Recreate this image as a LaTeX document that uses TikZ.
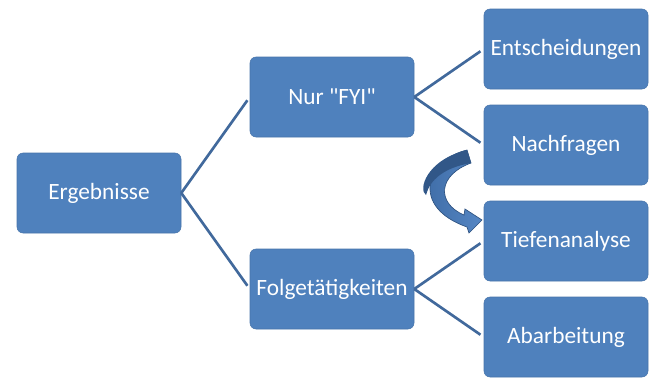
\documentclass[tikz,border=0pt]{standalone}
\usepackage{fontspec}
\setmainfont{Carlito}
\definecolor{boxblue}{HTML}{4F81BD}
\definecolor{lineblue}{HTML}{41699C}
\definecolor{arrowdark}{HTML}{3A67A0}
\definecolor{arrowlight}{HTML}{5586C4}
\begin{document}
\begin{tikzpicture}[x=0.75pt,y=-0.75pt,
  boxnode/.style={fill=boxblue,draw=boxblue!90!black,line width=0.4pt,rounded corners=4.5pt,minimum width=123pt,minimum height=60pt,text=white,font=\fontsize{17.5}{20}\selectfont,inner sep=0pt},
  conn/.style={draw=lineblue,line width=2pt,shorten >=3pt}]
\useasboundingbox (0,0) rectangle (672,390);
\node[boxnode] (erg) at (99,193) {Ergebnisse};
\node[boxnode] (fyi) at (332,97) {Nur \textquotedbl FYI\textquotedbl};
\node[boxnode] (folg) at (332,289) {Folgetätigkeiten};
\node[boxnode] (ent) at (566,49) {Entscheidungen};
\node[boxnode] (nach) at (566,145) {Nachfragen};
\node[boxnode] (tief) at (566,241) {Tiefenanalyse};
\node[boxnode] (abar) at (566,337) {Abarbeitung};
\draw[conn] (erg.east) -- (fyi.west);
\draw[conn] (erg.east) -- (folg.west);
\draw[conn] (fyi.east) -- (ent.west);
\draw[conn] (fyi.east) -- (nach.west);
\draw[conn] (folg.east) -- (tief.west);
\draw[conn] (folg.east) -- (abar.west);
% curved arrow
\path[left color=arrowdark, right color=arrowlight, draw=arrowdark!80!black, line width=0.5pt]
  (467,150) .. controls (426,160) and (410,207) .. (467,227)
  -- (469,233) -- (482,220) -- (465,209) -- (464,215)
  .. controls (436,203) and (438,175) .. (471,163) -- cycle;
\fill[arrowdark!85!black] (467,150) .. controls (426,160) and (418,190) .. (426,195)
  .. controls (430,180) and (443,168) .. (471,163) -- cycle;
\end{tikzpicture}
\end{document}
